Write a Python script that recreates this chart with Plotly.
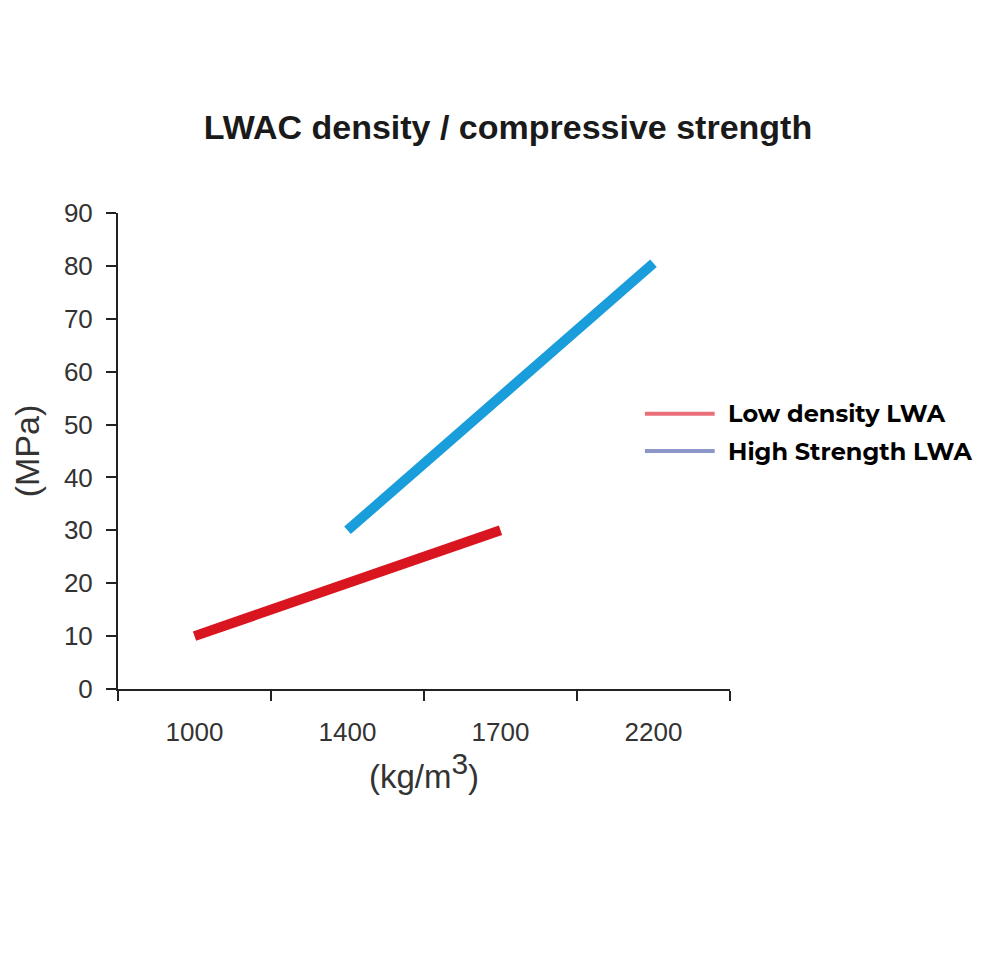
import plotly.graph_objects as go

categories = ["1000", "1400", "1700", "2200"]
low_x = ["1000", "1400", "1700"]
low_y = [10, 20, 30]
high_x = ["1400", "1700", "2200"]
high_y = [30, 55, 80.5]
y_ticks = [0, 10, 20, 30, 40, 50, 60, 70, 80, 90]
legend_names = ["Low density LWA", "High Strength LWA"]
legend_colors = ["#ea6f7b", "#8c97c7"]

fig = go.Figure()
fig.add_trace(go.Scatter(x=low_x, y=low_y, mode="lines", name=legend_names[0],
                         line=dict(color="#d9151f", width=10),
                         showlegend=False, hoverinfo="skip"))
fig.add_trace(go.Scatter(x=high_x, y=high_y, mode="lines", name=legend_names[1],
                         line=dict(color="#1a9ddb", width=10),
                         showlegend=False, hoverinfo="skip"))

# legend drawn beside the plot (long swatches as in the reference)
legend_rows_y = [0.578, 0.500]
for name, col, yy in zip(legend_names, legend_colors, legend_rows_y):
    fig.add_shape(type="line", xref="paper", yref="paper",
                  x0=0.861, x1=0.975, y0=yy, y1=yy,
                  line=dict(color=col, width=4))
    fig.add_annotation(text="<b>" + name + "</b>", xref="paper", yref="paper",
                       x=0.993, y=yy, xanchor="left", yanchor="middle", showarrow=False,
                       font=dict(family="Montserrat, Open Sans, sans-serif", size=24, color="#000000"))

fig.update_layout(
    width=1000, height=960,
    paper_bgcolor="white", plot_bgcolor="white",
    margin=dict(l=118, r=270, t=213, b=271),
    showlegend=False,
    title=dict(text="<b>LWAC density / compressive strength</b>",
               x=0.508, xanchor="center", y=1 - 127 / 960, yanchor="middle",
               font=dict(family="Liberation Sans, Arial", size=34, color="#1a1a1a")),
    font=dict(family="Liberation Sans, Arial", color="#333333"),
)

fig.update_xaxes(
    type="category", categoryorder="array", categoryarray=categories,
    range=[-0.5, 3.5], tickson="boundaries", ticks="outside", ticklen=10,
    tickwidth=2, tickcolor="#222222",
    showline=True, linecolor="#222222", linewidth=2, showgrid=False, zeroline=False,
    tickfont=dict(size=26, color="#333333"), ticklabelstandoff=19,
    title=dict(text='(kg/m<sup><span style="font-size:30px">3</span></sup>)',
               font=dict(size=33, color="#333333"), standoff=12),
)
fig.update_yaxes(
    range=[0, 90], tickvals=y_ticks, ticks="outside", ticklen=10,
    tickwidth=2, tickcolor="#222222",
    showline=True, linecolor="#222222", linewidth=2, showgrid=False, zeroline=False,
    tickfont=dict(size=26, color="#333333"), ticklabelstandoff=8,
    title=dict(text="(MPa)", font=dict(size=34, color="#333333"), standoff=14),
)

fig.write_html("out.html")
